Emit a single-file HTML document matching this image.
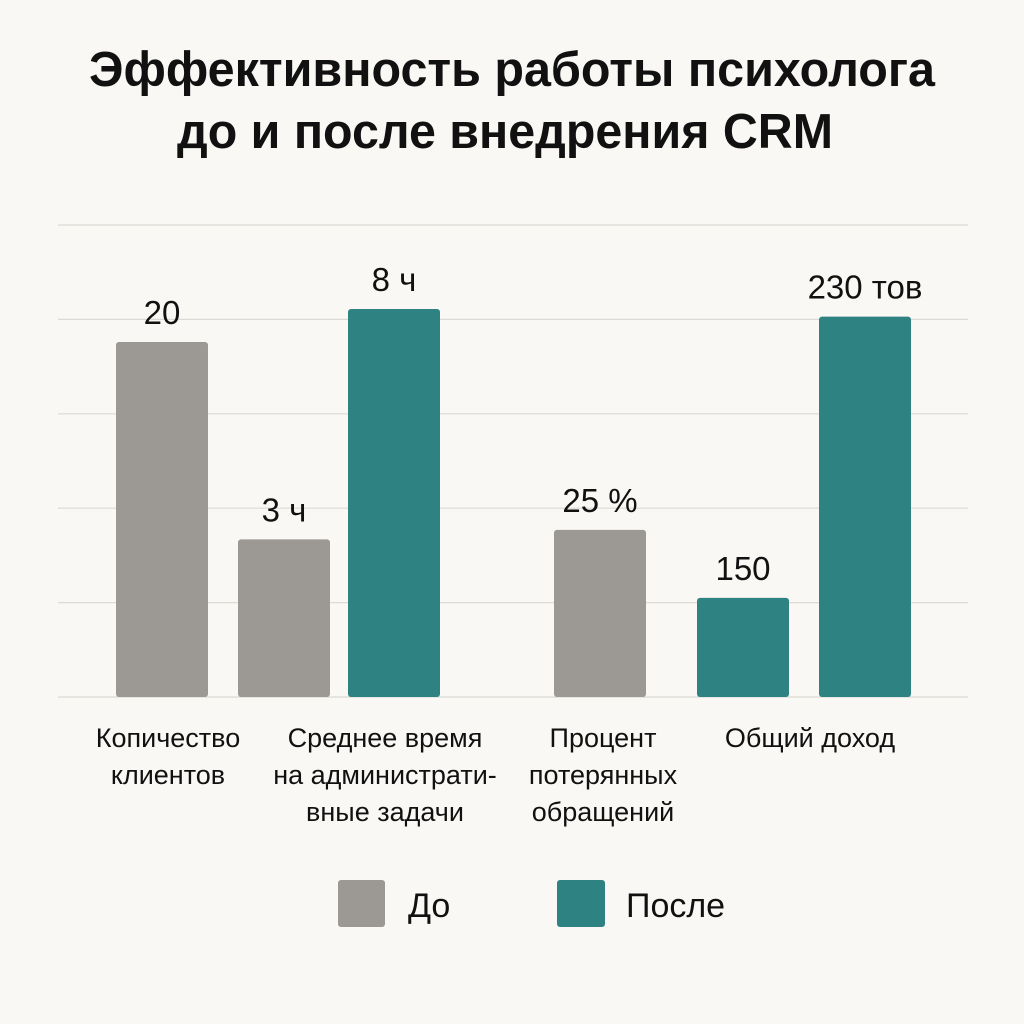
<!DOCTYPE html>
<html><head><meta charset="utf-8"><style>
body{margin:0;background:#f9f8f5;}
svg{display:block;font-family:"Liberation Sans","DejaVu Sans",sans-serif;}
</style></head><body>
<svg id="chart" width="1024" height="1024" viewBox="0 0 1024 1024">
<rect x="0" y="0" width="1024" height="1024" fill="#f9f8f5"/>
<text x="512" y="86" text-anchor="middle" font-size="49" font-weight="bold" fill="#111" textLength="846" lengthAdjust="spacingAndGlyphs">Эффективность работы психолога</text>
<text x="505" y="148" text-anchor="middle" font-size="49" font-weight="bold" fill="#111" textLength="656" lengthAdjust="spacingAndGlyphs">до и после внедрения CRM</text>
<g id="grid"></g>
<g id="bars"></g>
<g id="cats"></g>
<g>
<rect x="338" y="880" width="47" height="47" rx="3" fill="#9c9893"/>
<text x="408" y="917" font-size="34" fill="#111">До</text>
<rect x="557" y="880" width="48" height="47" rx="3" fill="#2f8282"/>
<text x="626" y="917" font-size="34" fill="#111">После</text>
</g>
</svg>
<script>
const barValues = [3.76, 1.67, 4.11, 1.77, 1.05, 4.03];
const barLabels = ["20", "3 ч", "8 ч", "25 %", "150", "230 тов"];
const barSeries = ["do", "do", "posle", "do", "posle", "posle"];
const gridTicks = [0, 1, 2, 3, 4, 5];
const categoryLines = [["Копичество","клиентов"],["Среднее время","на администрати-","вные задачи"],["Процент","потерянных","обращений"],["Общий доход"]];

const NS="http://www.w3.org/2000/svg";
const baseY=697, unit=94.4;
function yScale(v){return baseY - v*unit;}
const barX=[116,238,348,554,697,819], barW=92;
const catX=[168,385,603,810];
const colors={do:"#9c9893",posle:"#2f8282"};
const grid=document.getElementById('grid');
gridTicks.forEach(t=>{
  const l=document.createElementNS(NS,'line');
  l.setAttribute('x1',58);l.setAttribute('x2',968);
  l.setAttribute('y1',yScale(t));l.setAttribute('y2',yScale(t));
  l.setAttribute('stroke','#dcdad5');l.setAttribute('stroke-width',1.2);
  
  
  grid.appendChild(l);
});
const bars=document.getElementById('bars');
barValues.forEach((v,i)=>{
  const y=yScale(v);
  const r=document.createElementNS(NS,'rect');
  r.setAttribute('x',barX[i]);r.setAttribute('y',y);
  r.setAttribute('width',barW);r.setAttribute('height',baseY-y);
  r.setAttribute('rx',3);r.setAttribute('fill',colors[barSeries[i]]);
  
  
  bars.appendChild(r);
  const t=document.createElementNS(NS,'text');
  t.setAttribute('x',barX[i]+barW/2);t.setAttribute('y',y-18);
  t.setAttribute('text-anchor','middle');t.setAttribute('font-size',33);
  t.setAttribute('fill','#111');t.textContent=barLabels[i];
  
  
  bars.appendChild(t);
});
const cats=document.getElementById('cats');
categoryLines.forEach((lines,i)=>{
  lines.forEach((s,j)=>{
    const t=document.createElementNS(NS,'text');
    t.setAttribute('x',catX[i]);t.setAttribute('y',747+j*37);
    t.setAttribute('text-anchor','middle');t.setAttribute('font-size',27);
    t.setAttribute('fill','#111');t.textContent=s;
    
    
    cats.appendChild(t);
  });
});
</script>
</body></html>
